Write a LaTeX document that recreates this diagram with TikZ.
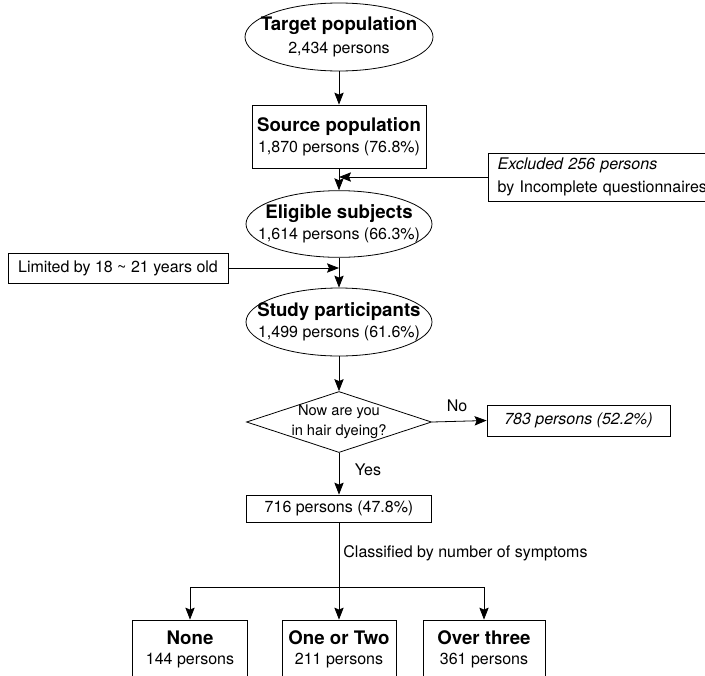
\documentclass[tikz,border=0pt]{standalone}
\usepackage{fontspec}
\setmainfont{TeX Gyre Heros}
\usetikzlibrary{shapes.geometric,arrows.meta}

\newcommand{\bigb}{\fontsize{14}{17}\selectfont\bfseries}
\newcommand{\smlt}{\fontsize{12}{15}\selectfont\mdseries}

\begin{document}
\begin{tikzpicture}[x=0.75pt,y=0.75pt,yscale=-1,xscale=1,
  ellbox/.style={draw,ellipse,inner sep=0pt,minimum width=139.5pt,minimum height=50pt},
  rectbox/.style={draw,rectangle,inner sep=0pt,align=center},
  arr/.style={-{Stealth[length=9pt,width=7pt,inset=1.5pt]}},
  line width=0.6pt]
\useasboundingbox (0,0) rectangle (705,675);
\clip (0,0) rectangle (705,675);

%Shape: Ellipse [target]
\node [ellbox,minimum width=141pt,minimum height=51pt] (tgt) at (339,37) {};
% Text Node
\node [align=center] (tgttxt) at (tgt) {\bigb Target population\\[5pt]\smlt 2,434 persons};

%Shape: Rectangle [source]
\node [rectbox,minimum width=130.5pt,minimum height=47.25pt] (src) at (339,136.5)
  {\bigb Source population\\[4pt]\smlt 1,870 persons (76.8\%)};

%Shape: Rectangle [excluded]
\node [draw,anchor=west,inner xsep=7pt,inner ysep=0pt,text width=166pt,align=left,
  minimum height=36pt,font=\smlt] (excl) at (488,177)
  {\itshape Excluded 256 persons\\[2pt]\upshape by Incomplete questionnaires};
\coordinate (jx) at (339,177);

%Shape: Ellipse [eligible]
\node [ellbox] (elig) at (339,224) {};
% Text Node
\node [align=center] (eligtxt) at (elig) {\bigb Eligible subjects\\[4pt]\smlt 1,614 persons (66.3\%)};

%Shape: Rectangle [limited]
\node [rectbox,minimum width=165pt,minimum height=22.5pt,font=\smlt] (lim) at (118,268)
  {Limited by 18 \textasciitilde\ 21 years old};
\coordinate (jl) at (339,268);

%Shape: Ellipse [study]
\node [ellbox,minimum height=51pt] (stdy) at (339,322) {};
% Text Node
\node [align=center] (stdytxt) at (stdy) {\bigb Study participants\\[4pt]\smlt 1,499 persons (61.6\%)};

%Shape: Diamond
\node [draw,diamond,inner sep=0pt,minimum width=138.75pt,minimum height=45.75pt] (dia) at (339,422) {};
% Text Node
\node [align=center,font=\fontsize{11}{15}\selectfont] (diatxt) at (dia) {Now are you\\in hair dyeing?};

%Shape: Rectangle [no]
\node [rectbox,minimum width=137.25pt,minimum height=23.25pt,font=\smlt] (nno) at (578.5,420.5)
  {\itshape 783 persons (52.2\%)};

%Shape: Rectangle [yes]
\node [rectbox,minimum width=138.75pt,minimum height=20.25pt,font=\smlt] (nyes) at (339,508.5)
  {716 persons (47.8\%)};

%Shape: Rectangles [classes]
\node [rectbox,minimum width=86.25pt,minimum height=43.5pt] (none) at (190,649)
  {\bigb None\\[3pt]\smlt 144 persons};
\node [rectbox,minimum width=85.5pt,minimum height=43.5pt] (two) at (339,649)
  {\bigb One or Two\\[3pt]\smlt 211 persons};
\node [rectbox,minimum width=91.5pt,minimum height=43.5pt] (three) at (484,649)
  {\bigb Over three\\[3pt]\smlt 361 persons};
\coordinate (br) at (339,587);

%Straight Lines
\draw [arr] (tgt) -- (src);
\draw [arr] (src) -- (elig);
\draw [arr] (excl.west) -- (jx);
\draw [arr] (elig) -- (stdy);
\draw [arr] (lim.east) -- (jl);
\draw [arr] (stdy) -- (dia);
\draw [arr] (dia.east) -- (nno.west);
\draw [arr] (dia) -- (nyes);
\draw [arr] (nyes) -- (two);
\draw (none.north |- br) -- (three.north |- br);
\draw [arr] (none.north |- br) -- (none.north);
\draw [arr] (three.north |- br) -- (three.north);

% Text Node
\node [font=\smlt] (nolbl) at (457,406) {No};
% Text Node
\node [font=\smlt] (yeslbl) at (368,470) {Yes};
% Text Node
\node [font=\smlt,anchor=west,inner sep=0pt] (clslbl) at (343,553) {Classified by number of symptoms};

\end{tikzpicture}
\end{document}
